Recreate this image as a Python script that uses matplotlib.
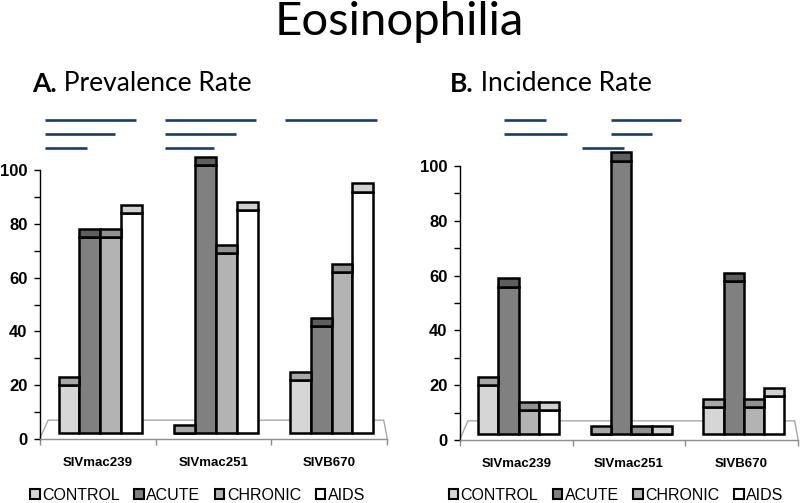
import matplotlib
matplotlib.use("Agg")
import matplotlib.pyplot as plt
from matplotlib.patches import Patch
import numpy as np

# ---------------- data ----------------
categories = ["SIVmac239", "SIVmac251", "SIVB670"]
series = ["CONTROL", "ACUTE", "CHRONIC", "AIDS"]

prev_control = [20, 0, 22]
prev_acute = [75, 102, 42]
prev_chronic = [75, 69, 62]
prev_aids = [84, 85, 92]

inc_control = [20, 0, 12]
inc_acute = [56, 102, 58]
inc_chronic = [11, 0, 12]
inc_aids = [11, 0, 16]

y_ticks = [0, 20, 40, 60, 80, 100]

# significance bars: (x_start, x_end, y_level)
prev_sig = [(-0.46, 0.33, 118.6), (-0.46, 0.15, 113.4), (-0.46, -0.09, 108.2),
            (0.58, 1.37, 118.6), (0.58, 1.19, 113.4), (0.58, 1.00, 108.2),
            (1.62, 2.41, 118.6)]
inc_sig = [(-0.11, 0.26, 116.8), (-0.11, 0.45, 111.7), (0.58, 0.955, 106.6),
           (0.84, 1.46, 116.8), (0.84, 1.20, 111.7)]

# ---------------- style ----------------
front_colors = ["#d6d6d6", "#808080", "#b3b3b3", "#ffffff"]
cap_colors = ["#a8a8a8", "#5e5e5e", "#929292", "#d0d0d0"]
BASE = 2.2
CAP = 3.0
W = 0.18
SIG_COLOR = "#1c3a6b"

plt.rcParams['font.family'] = ['Liberation Sans', 'DejaVu Sans']

fig = plt.figure(figsize=(8, 5.03), dpi=100)


def draw_panel(rect, data, sig, legend_cx):
    ax = fig.add_axes(rect)
    for j, vals in enumerate(data):
        x = np.arange(len(categories)) + 0.02 + (j - 1.5) * W
        front_h = [max(v - BASE, 0) for v in vals]
        ax.bar(x, front_h, W, bottom=BASE, color=front_colors[j], edgecolor="black",
               linewidth=1.8, clip_on=False, zorder=3)
        cap_b = [max(v, BASE) for v in vals]
        ax.bar(x, CAP, W, bottom=cap_b, color=cap_colors[j], edgecolor="black",
               linewidth=1.8, clip_on=False, zorder=4)
    # floor outline
    ax.plot([-0.5, -0.43, 2.47, 2.5], [0.3, 7, 7, 0.3], color="#a8a8a8", lw=1.0,
            zorder=2, clip_on=False)
    for (x0, x1, yl) in sig:
        ax.plot([x0, x1], [yl, yl], color=SIG_COLOR, lw=1.9, clip_on=False,
                solid_capstyle='butt')
    ax.set_xlim(-0.5, 2.5)
    ax.set_ylim(0, 100)
    for s in ["top", "right"]:
        ax.spines[s].set_visible(False)
    ax.spines["left"].set_color("black")
    ax.spines["left"].set_linewidth(1.0)
    ax.spines["bottom"].set_color("#8c8c8c")
    ax.spines["bottom"].set_linewidth(1.0)
    ax.set_yticks(y_ticks)
    ax.set_yticks([10, 30, 50, 70, 90], minor=True)
    ax.set_yticklabels([str(t) for t in y_ticks], fontweight="bold", fontsize=12,
                       family=['Liberation Sans'])
    ax.tick_params(axis="y", which="both", direction="out", length=4, width=1, pad=5)
    ax.set_xticks([-0.5, 0.5, 1.5, 2.5])
    ax.set_xticklabels([])
    ax.tick_params(axis="x", which="major", direction="out", length=4, width=1,
                   color="#8c8c8c")
    ax.set_xticks([0, 1, 2], minor=True)
    ax.set_xticklabels(categories, minor=True, fontweight="bold", fontsize=9.5)
    ax.tick_params(axis="x", which="minor", length=0, pad=13)
    handles = [Patch(facecolor=front_colors[j], edgecolor="black", linewidth=1.5,
                     label=series[j]) for j in range(4)]
    fig.legend(handles=handles, loc="center", bbox_to_anchor=(legend_cx, 0.015),
               ncol=4, frameon=False, fontsize=11.5, handlelength=0.6,
               handleheight=0.6, handletextpad=0.15, columnspacing=0.9,
               borderpad=0)
    return ax


axA = draw_panel([0.05, 0.1272, 0.434, 0.5348],
                 [prev_control, prev_acute, prev_chronic, prev_aids], prev_sig, 0.247)
axB = draw_panel([0.575, 0.1252, 0.4225, 0.5447],
                 [inc_control, inc_acute, inc_chronic, inc_aids], inc_sig, 0.77)

# titles
TITLE_FONT = ['Lato', 'DejaVu Sans']
fig.text(0.499, 0.930, "Eosinophilia", ha="center", va="baseline",
         fontsize=34, family=TITLE_FONT)

tA = fig.text(0.040, 0.810, "A.", ha="left", va="bottom", fontsize=19,
              fontweight="bold", family=TITLE_FONT)
fig.canvas.draw()
bbA = tA.get_window_extent()
fig.text(bbA.x1 / 800, 0.810, " Prevalence Rate", ha="left", va="bottom",
         fontsize=19, family=TITLE_FONT)

tB = fig.text(0.5625, 0.810, "B.", ha="left", va="bottom", fontsize=19,
              fontweight="bold", family=TITLE_FONT)
fig.canvas.draw()
bbB = tB.get_window_extent()
fig.text(bbB.x1 / 800, 0.810, " Incidence Rate", ha="left", va="bottom",
         fontsize=19, family=TITLE_FONT)

fig.savefig("out.png", dpi=100)
